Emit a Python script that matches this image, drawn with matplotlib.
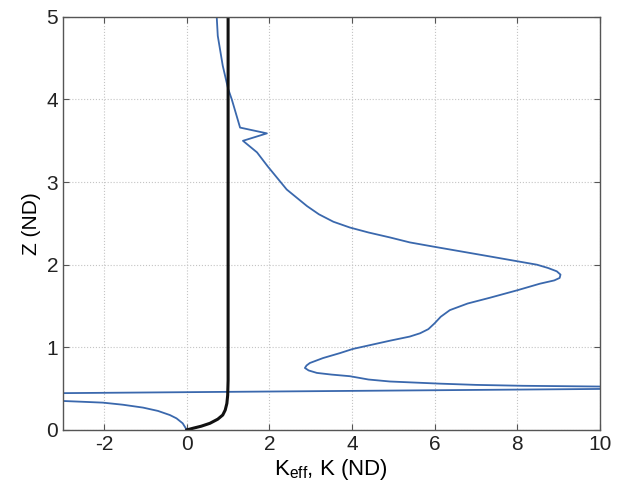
import matplotlib
matplotlib.use('Agg')
import matplotlib.pyplot as plt

plt.rcParams['font.family'] = ['Liberation Sans', 'DejaVu Sans']
plt.rcParams['axes.unicode_minus'] = False

# K (black): rises from 0 to 1 near the wall, then stays at 1
k_x = [0.0, 0.15, 0.35, 0.56, 0.75, 0.87, 0.93, 0.97, 0.99, 1.0, 1.0, 1.0]
k_z = [0.0, 0.02, 0.045, 0.08, 0.13, 0.18, 0.24, 0.32, 0.42, 0.6, 2.0, 5.0]

# K_eff (blue): lower branch, jump through the singularity, upper branch
keff_x = [0.0, -0.05, -0.1, -0.25, -0.41, -0.7, -1.06, -1.55, -2.03, -2.5,
          -2.99, -3.2, -3.3,
          10.3, 10.0, 9.0, 8.14, 7.0, 6.13, 4.92, 4.4, 3.95, 3.5, 3.15,
          2.95, 2.86, 2.9, 2.98, 3.3, 3.71, 4.02, 4.92, 5.4, 5.65, 5.85,
          6.0, 6.15, 6.37, 6.8, 7.34, 8.0, 8.55, 8.9, 9.03, 9.05, 8.96,
          8.75, 8.48, 7.34, 5.96, 5.4, 4.92, 4.4, 3.95, 3.55, 3.2, 2.91,
          2.42, 1.96, 1.70, 1.36, 1.94, 1.29, 1.09, 1.0, 0.87, 0.75, 0.72]
keff_z = [0.0, 0.04, 0.08, 0.14, 0.18, 0.23, 0.27, 0.305, 0.33, 0.34,
          0.35, 0.36, 0.444,
          0.497, 0.525, 0.53, 0.534, 0.545, 0.56, 0.586, 0.61, 0.65, 0.67,
          0.69, 0.72, 0.75, 0.78, 0.81, 0.87, 0.93, 0.98, 1.08, 1.13, 1.17,
          1.22, 1.29, 1.37, 1.45, 1.53, 1.60, 1.69, 1.77, 1.81, 1.84, 1.88,
          1.92, 1.96, 2.0, 2.10, 2.22, 2.27, 2.33, 2.39, 2.45, 2.52, 2.61,
          2.71, 2.91, 3.19, 3.36, 3.50, 3.59, 3.66, 4.0, 4.13, 4.41, 4.77,
          5.04]

fig = plt.figure(figsize=(6.17, 4.97), dpi=100)
ax = fig.add_axes([0.102, 0.135, 0.870, 0.831])

ax.plot(keff_x, keff_z, color='#3a68ad', lw=1.3)
ax.plot(k_x, k_z, color='#111111', lw=2.2)

ax.set_xlim(-3, 10)
ax.set_ylim(0, 5)
ax.set_xticks([-2, 0, 2, 4, 6, 8, 10])
ax.set_yticks([0, 1, 2, 3, 4, 5])
ax.grid(True, linestyle=':', color='#c4c4c4', lw=0.8)
ax.tick_params(direction='in', labelsize=15, top=True, right=True, length=4,
               colors='#555555', labelcolor='#222222')
for s in ax.spines.values():
    s.set_color('#555555')
    s.set_linewidth(1.0)

ax.set_xlabel(r'K$\mathregular{_{eff}}$, K (ND)', fontsize=16, labelpad=2)
ax.set_ylabel('Z (ND)', fontsize=15, labelpad=4)

fig.savefig('out.png', dpi=100)
